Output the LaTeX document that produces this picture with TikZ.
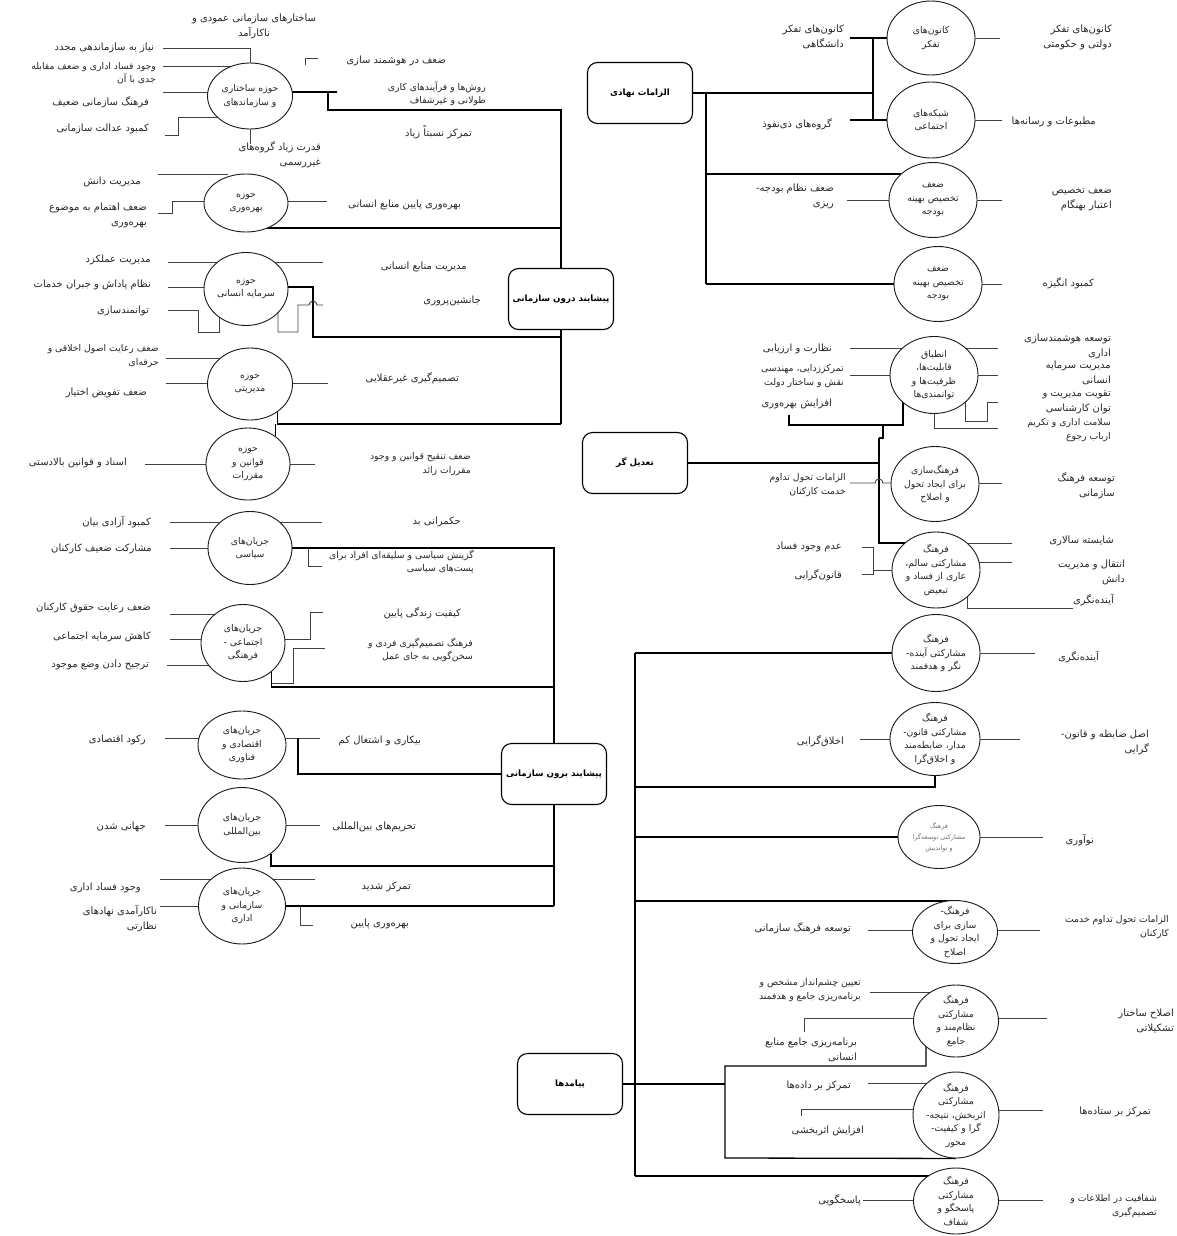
\documentclass[tikz,border=0pt]{standalone}
\usepackage{fontspec}
\newfontfamily\arabicfont[Script=Arabic]{DejaVu Sans}
\TeXXeTstate=1
\usetikzlibrary{shapes.geometric}
\pgfdeclarelayer{back}
\pgfsetlayers{back,main}
\newcommand\fa[1]{\beginR #1\endR}
\newcommand\lblfont{\arabicfont\fontsize{10}{15}\selectfont}
\newcommand\smlfont{\arabicfont\fontsize{9.3}{13.5}\selectfont}
\newcommand\circfont{\arabicfont\fontsize{9.3}{13.5}\selectfont}
\newcommand\tinyfont{\arabicfont\fontsize{6.5}{11}\selectfont}
\newcommand\boxfont{\arabicfont\bfseries\fontsize{8.7}{10}\selectfont}
\begin{document}
\begin{tikzpicture}[x=1pt,y=-1pt,
  lbl/.style={font=\lblfont, text=black!85, inner sep=1pt, align=right, anchor=east},
  sml/.style={lbl, font=\smlfont},
  circ/.style 2 args={ellipse, draw=black!90, line width=0.9pt, fill=white, minimum width=#1pt, minimum height=#2pt, inner sep=0pt},
  ctext/.style={font=\circfont, text=black!85, align=center, inner sep=0pt},
  mainbox/.style={draw, line width=1.1pt, rounded corners=10pt, fill=white, minimum width=105pt, minimum height=61pt, font=\boxfont},
  ln/.style={draw=black!75, line width=0.9pt},
  mn/.style={draw=black, line width=1.3pt}]
\useasboundingbox (0,0) rectangle (1177,1236);

% ---------------- main boxes
\node[mainbox] (b1) at (561,299) {\fa{پیشایند درون سازمانی}};
\node[mainbox] (b2) at (554,774) {\fa{پیشایند برون سازمانی}};
\node[mainbox] (b3) at (640,93) {\fa{الزامات نهادی}};
\node[mainbox] (b4) at (635,463) {\fa{تعدیل گر}};
\node[mainbox] (b5) at (570,1084) {\fa{پیامدها}};

% ---------------- circles
\node[circ={85}{66}] (c1) at (250,96) {};
\node[circ={84}{58}] (c2) at (246,203) {};
\node[circ={84}{73}] (c3) at (246,289) {};
\node[circ={85}{72}] (c4) at (250,384) {};
\node[circ={84}{72}] (c5) at (248,464) {};
\node[circ={84}{73}] (c6) at (250,548) {};
\node[circ={84}{77}] (c7) at (243,643) {};
\node[circ={88}{68}] (c8) at (242,745) {};
\node[circ={88}{75}] (c9) at (242,825) {};
\node[circ={87}{76}] (c10) at (242,906) {};
\node[circ={88}{74}] (c11) at (931,38) {};
\node[circ={88}{76}] (c12) at (931,120) {};
\node[circ={88}{75}] (c13) at (933,200) {};
\node[circ={88}{75}] (c14) at (938,284) {};
\node[circ={88}{77}] (c15) at (934,375) {};
\node[circ={88}{75}] (c16) at (935,484) {};
\node[circ={88}{76}] (c17) at (936,570) {};
\node[circ={88}{77}] (c18) at (936,653) {};
\node[circ={90}{73}] (c19) at (935,739) {};
\node[circ={82}{63}] (c20) at (939,837) {};
\node[circ={85}{63}] (c21) at (955,932) {};
\node[circ={85}{72}] (c22) at (956,1021) {};
\node[circ={86}{86}] (c23) at (956,1115) {};
\node[circ={85}{66}] (c24) at (956,1201) {};

% ---------------- circle texts
\node[ctext] (c1t) at (c1) {\fa{حوزه ساختاری}\\\fa{و سازماندهای}};
\node[ctext] (c2t) at (c2) {\fa{حوزه}\\\fa{بهره‌وری}};
\node[ctext] (c3t) at (c3) {\fa{حوزه}\\\fa{سرمایه انسانی}};
\node[ctext] (c4t) at (c4) {\fa{حوزه}\\\fa{مدیریتی}};
\node[ctext] (c5t) at (c5) {\fa{حوزه}\\\fa{قوانین و}\\\fa{مقررات}};
\node[ctext] (c6t) at (c6) {\fa{جریان‌های}\\\fa{سیاسی}};
\node[ctext] (c7t) at (c7) {\fa{جریان‌های}\\\fa{اجتماعی -}\\\fa{فرهنگی}};
\node[ctext] (c8t) at (c8) {\fa{جریان‌های}\\\fa{اقتصادی و}\\\fa{فناوری}};
\node[ctext] (c9t) at (c9) {\fa{جریان‌های}\\\fa{بین‌المللی}};
\node[ctext] (c10t) at (c10) {\fa{جریان‌های}\\\fa{سازمانی و}\\\fa{اداری}};
\node[ctext] (c11t) at (c11) {\fa{کانون‌های}\\\fa{تفکر}};
\node[ctext] (c12t) at (c12) {\fa{شبکه‌های}\\\fa{اجتماعی}};
\node[ctext] (c13t) at (c13) {\fa{ضعف}\\\fa{تخصیص بهینه}\\\fa{بودجه}};
\node[ctext] (c14t) at (c14) {\fa{ضعف}\\\fa{تخصیص بهینه}\\\fa{بودجه}};
\node[ctext] (c15t) at (c15) {\fa{انطباق}\\\fa{قابلیت‌ها،}\\\fa{ظرفیت‌ها و}\\\fa{توانمندی‌ها}};
\node[ctext] (c16t) at (c16) {\fa{فرهنگ‌سازی}\\\fa{برای ایجاد تحول}\\\fa{و اصلاح}};
\node[ctext] (c17t) at (c17) {\fa{فرهنگ}\\\fa{مشارکتی سالم،}\\\fa{عاری از فساد و}\\\fa{تبعیض}};
\node[ctext] (c18t) at (c18) {\fa{فرهنگ}\\\fa{مشارکتی آینده-}\\\fa{نگر و هدفمند}};
\node[ctext] (c19t) at (c19) {\fa{فرهنگ}\\\fa{مشارکتی قانون-}\\\fa{مدار، ضابطه‌مند}\\\fa{و اخلاق‌گرا}};
\node[ctext, font=\tinyfont, text=black!55] (c20t) at (c20) {\fa{فرهنگ}\\\fa{مشارکتی توسعه‌گرا}\\\fa{و نواندیش}};
\node[ctext] (c21t) at (c21) {\fa{فرهنگ-}\\\fa{سازی برای}\\\fa{ایجاد تحول و}\\\fa{اصلاح}};
\node[ctext] (c22t) at (c22) {\fa{فرهنگ}\\\fa{مشارکتی}\\\fa{نظام‌مند و}\\\fa{جامع}};
\node[ctext] (c23t) at (c23) {\fa{فرهنگ}\\\fa{مشارکتی}\\\fa{اثربخش، نتیجه-}\\\fa{گرا و کیفیت-}\\\fa{محور}};
\node[ctext] (c24t) at (c24) {\fa{فرهنگ}\\\fa{مشارکتی}\\\fa{پاسخگو و}\\\fa{شفاف}};

% ---------------- labels: top-left
\node[lbl, align=center, anchor=center] (t1) at (254,26) {\fa{ساختارهای سازمانی عمودی و}\\\fa{ناکارآمد}};
\node[lbl] (t2) at (155,48) {\fa{نیاز به سازماندهی مجدد}};
\node[sml] (t3) at (157,73) {\fa{وجود فساد اداری و ضعف مقابله}\\\fa{جدی با آن}};
\node[lbl] (t4) at (150,102) {\fa{فرهنگ سازمانی ضعیف}};
\node[lbl] (t5) at (150,129) {\fa{کمبود عدالت سازمانی}};
\node[lbl] (t6) at (322,155) {\fa{قدرت زیاد گروه‌های}\\\fa{غیررسمی}};
\node[lbl] (t7) at (447,61) {\fa{ضعف در هوشمند سازی}};
\node[sml] (t8) at (487,94) {\fa{روش‌ها و فرآیندهای کاری}\\\fa{طولانی و غیرشفاف}};
\node[lbl] (t9) at (473,132) {\fa{تمرکز نسبتاً زیاد}};
\node[lbl] (t10) at (142,182) {\fa{مدیریت دانش}};
\node[lbl] (t11) at (148,215) {\fa{ضعف اهتمام به موضوع}\\\fa{بهره‌وری}};
\node[lbl] (t12) at (462,205) {\fa{بهره‌وری پایین منابع انسانی}};
\node[lbl] (t13) at (152,260) {\fa{مدیریت عملکرد}};
\node[lbl] (t14) at (152,285) {\fa{نظام پاداش و جبران خدمات}};
\node[lbl] (t15) at (150,311) {\fa{توانمندسازی}};
\node[lbl] (t16) at (468,267) {\fa{مدیریت منابع انسانی}};
\node[lbl] (t17) at (482,301) {\fa{جانشین‌پروری}};
\node[sml] (t18) at (160,356) {\fa{ضعف رعایت اصول اخلاقی و}\\\fa{حرفه‌ای}};
\node[lbl] (t19) at (148,393) {\fa{ضعف تفویض اختیار}};
\node[lbl] (t20) at (460,378) {\fa{تصمیم‌گیری غیرعقلایی}};
\node[lbl] (t21) at (128,463) {\fa{اسناد و قوانین بالادستی}};
\node[sml] (t22) at (472,464) {\fa{ضعف تنقیح قوانین و وجود}\\\fa{مقررات زائد}};

% ---------------- labels: bottom-left
\node[lbl] (t23) at (152,522) {\fa{کمبود آزادی بیان}};
\node[lbl] (t24) at (153,549) {\fa{مشارکت ضعیف کارکنان}};
\node[lbl] (t25) at (462,522) {\fa{حکمرانی بد}};
\node[sml] (t26) at (475,562) {\fa{گزینش سیاسی و سلیقه‌ای افراد برای}\\\fa{پست‌های سیاسی}};
\node[lbl] (t27) at (152,608) {\fa{ضعف رعایت حقوق کارکنان}};
\node[lbl] (t28) at (152,637) {\fa{کاهش سرمایه اجتماعی}};
\node[lbl] (t29) at (150,665) {\fa{ترجیح دادن وضع موجود}};
\node[lbl] (t30) at (462,613) {\fa{کیفیت زندگی پایین}};
\node[sml] (t31) at (474,650) {\fa{فرهنگ تصمیم‌گیری فردی و}\\\fa{سخن‌گویی به جای عمل}};
\node[lbl] (t32) at (147,740) {\fa{رکود اقتصادی}};
\node[lbl] (t33) at (422,741) {\fa{بیکاری و اشتغال کم}};
\node[lbl] (t34) at (147,827) {\fa{جهانی شدن}};
\node[lbl] (t35) at (417,827) {\fa{تحریم‌های بین‌المللی}};
\node[lbl] (t36) at (142,888) {\fa{وجود فساد اداری}};
\node[lbl] (t37) at (158,919) {\fa{ناکارآمدی نهادهای}\\\fa{نظارتی}};
\node[lbl] (t38) at (412,887) {\fa{تمرکز شدید}};
\node[lbl] (t39) at (410,924) {\fa{بهره‌وری پایین}};

% ---------------- labels: top-right
\node[lbl] (t40) at (845,37) {\fa{کانون‌های تفکر}\\\fa{دانشگاهی}};
\node[lbl] (t41) at (1113,37) {\fa{کانون‌های تفکر}\\\fa{دولتی و حکومتی}};
\node[lbl] (t42) at (833,124) {\fa{گروه‌های ذی‌نفوذ}};
\node[lbl] (t43) at (1097,122) {\fa{مطبوعات و رسانه‌ها}};
\node[lbl] (t44) at (835,196) {\fa{ضعف نظام بودجه‌-}\\\fa{ریزی}};
\node[lbl] (t45) at (1113,200) {\fa{ضعف تخصیص}\\\fa{اعتبار بهنگام}};
\node[lbl] (t46) at (1095,283) {\fa{کمبود انگیزه}};

% ---------------- labels: middle-right
\node[lbl] (t47) at (833,349) {\fa{نظارت و ارزیابی}};
\node[sml] (t48) at (845,376) {\fa{تمرکززدایی، مهندسی}\\\fa{نقش و ساختار دولت}};
\node[lbl] (t49) at (833,404) {\fa{افزایش بهره‌وری}};
\node[lbl] (t50) at (1112,346) {\fa{توسعه هوشمندسازی}\\\fa{اداری}};
\node[lbl] (t51) at (1112,373) {\fa{مدیریت سرمایه}\\\fa{انسانی}};
\node[lbl] (t52) at (1112,402) {\fa{تقویت مدیریت و}\\\fa{توان کارشناسی}};
\node[sml] (t53) at (1112,430) {\fa{سلامت اداری و تکریم}\\\fa{ارباب رجوع}};
\node[sml] (t54) at (847,485) {\fa{الزامات تحول تداوم}\\\fa{خدمت کارکنان}};
\node[lbl] (t55) at (1116,486) {\fa{توسعه فرهنگ}\\\fa{سازمانی}};
\node[lbl] (t56) at (843,547) {\fa{عدم وجود فساد}};
\node[lbl] (t57) at (843,575) {\fa{قانون‌گرایی}};
\node[lbl] (t58) at (1115,541) {\fa{شایسته سالاری}};
\node[lbl] (t59) at (1126,572) {\fa{انتقال و مدیریت}\\\fa{دانش}};
\node[lbl] (t60) at (1115,600) {\fa{آینده‌نگری}};

% ---------------- labels: bottom-right
\node[lbl] (t61) at (1100,657) {\fa{آینده‌نگری}};
\node[lbl] (t62) at (845,741) {\fa{اخلاق‌گرایی}};
\node[lbl] (t63) at (1150,742) {\fa{اصل ضابطه و قانون-}\\\fa{گرایی}};
\node[lbl] (t64) at (1095,840) {\fa{نوآوری}};
\node[lbl] (t65) at (852,928) {\fa{توسعه فرهنگ سازمانی}};
\node[sml] (t66) at (1170,927) {\fa{الزامات تحول تداوم خدمت}\\\fa{کارکنان}};
\node[sml] (t67) at (862,990) {\fa{تعیین چشم‌انداز مشخص و}\\\fa{برنامه‌ریزی جامع و هدفمند}};
\node[lbl] (t68) at (858,1050) {\fa{برنامه‌ریزی جامع منابع}\\\fa{انسانی}};
\node[lbl] (t69) at (1175,1021) {\fa{اصلاح ساختار}\\\fa{تشکیلاتی}};
\node[lbl] (t70) at (852,1086) {\fa{تمرکز بر داده‌ها}};
\node[lbl] (t71) at (865,1131) {\fa{افزایش اثربخشی}};
\node[lbl] (t72) at (1152,1112) {\fa{تمرکز بر ستاده‌ها}};
\node[lbl] (t73) at (862,1200) {\fa{پاسخگویی}};
\node[sml] (t74) at (1158,1206) {\fa{شفافیت در اطلاعات و}\\\fa{تصمیم‌گیری}};

% ================= connectors (behind the circles)
\begin{pgfonlayer}{back}
% top-left
\draw[ln] (163,48) -| (c1.north);
\draw[ln] (163,66) -- (c1|-0,66);
\draw[ln] (163,92) -- (c1|-0,92);
\draw[ln] (165,135) -- (178,135) -- (178,117) -- (c1|-0,117);
\draw[ln] (c1.south) -- ++(0,15);
\draw[ln] (305,65) -- (305,58) -- (318,58);
\draw[mn] (c1|-0,92) -- (337,92);
\draw[mn] (328,92) -- (328,110) -| (b1.north);
\draw[ln] (158,174) -- (228,174);
\draw[ln] (158,213) -- (172,213) -- (172,201) -- (c2|-0,201);
\draw[ln] (c2|-0,201) -- (327,201);
\draw[mn] (c2|-0,228) -- (b1.north|-0,228);
\draw[ln] (168,262) -- (c3|-0,262);
\draw[ln] (168,287) -- (c3|-0,287);
\draw[ln] (168,310) -- (198,310) -- (198,332) -- (219,332) -- (219,310);
\draw[ln] (c3|-0,262) -- (323,262);
\draw[mn] (c3|-0,287) -- (313,287) -- (313,337) -- (b1.south|-0,337);
\draw[ln] (278,300) -- (278,332) -- (298,332) -- (298,305) -- (309,305) arc[start angle=180,end angle=0,radius=4pt] -- (323,305);
\draw[mn] (b1.south) -- (b1.south|-0,424);
\draw[ln] (166,358) -- (c4|-0,358);
\draw[ln] (166,383) -- (c4|-0,383);
\draw[ln] (c4|-0,383) -- (328,383);
\draw[mn] (c4.-45) -- (c4.-45|-0,424) -- (b1.south|-0,424);
\draw[mn] (c5.45) -- (c5.45|-0,424);
\draw[ln] (145,464) -- (c5|-0,464);
\draw[ln] (c5|-0,464) -- (315,464);
% bottom-left
\draw[ln] (170,522) -- (c6|-0,522);
\draw[ln] (170,548) -- (c6|-0,548);
\draw[ln] (c6|-0,522) -- (322,522);
\draw[mn] (c6|-0,548) -| (b2.north);
\draw[ln] (308,548) -- (308,566) -- (322,566);
\draw[ln] (170,614) -- (c7|-0,614);
\draw[ln] (170,639) -- (c7|-0,639);
\draw[ln] (167,665) -- (c7|-0,665);
\draw[ln] (c7|-0,639) -- (310,639) -- (310,612) -- (323,612);
\draw[mn] (c7.-45) |- (b2.north|-0,687);
\draw[ln] (c7.-45|-0,683) -- (293,683) -- (293,648) -- (325,648);
\draw[ln] (165,738) -- (c8|-0,738);
\draw[ln] (c8|-0,738) -- (320,738);
\draw[mn] (298,738) |- (b2.west);
\draw[ln] (165,825) -- (c9|-0,825);
\draw[ln] (c9|-0,825) -- (320,825);
\draw[mn] (c9.-45) |- (b2.south|-0,866);
\draw[mn] (b2.south) -- (b2.south|-0,906);
\draw[ln] (160,879) -- (c10|-0,879);
\draw[ln] (160,906) -- (c10|-0,906);
\draw[ln] (c10|-0,879) -- (315,879);
\draw[mn] (c10|-0,906) -- (b2.south|-0,906);
\draw[ln] (300,906) |- (313,925);
% top-right
\draw[mn] (b3.east) -- (873,93);
\draw[mn] (706,93) -- (706,284);
\draw[mn] (873,38) -- (873,120);
\draw[mn] (850,38) -- (c11|-0,38);
\draw[mn] (850,120) -- (c12|-0,120);
\draw[ln] (c11|-0,38) -- (1000,38);
\draw[ln] (c12|-0,120) -- (1002,120);
\draw[mn] (706,174) -- (c13|-0,174);
\draw[ln] (847,200) -- (c13|-0,200);
\draw[ln] (c13|-0,200) -- (1002,200);
\draw[mn] (706,284) -- (c14|-0,284);
\draw[ln] (c14|-0,284) -- (1002,284);
% middle-right
\draw[mn] (b4.east) -- (879,463);
\draw[mn] (879,438) -- (879,543) -- (c17|-0,543);
\draw[mn] (879,438) -- (883,438) -- (883,425);
\draw[mn] (789,415) -- (789,425) -- (903,425) -- (903,400);
\draw[ln] (850,348) -- (c15|-0,348);
\draw[ln] (850,375) -- (c15|-0,375);
\draw[ln] (c15|-0,348) -- (998,348);
\draw[ln] (c15|-0,375) -- (998,375);
\draw[ln] (965,395) -- (965,421) -- (987,421) -- (987,402) -- (998,402);
\draw[ln] (c15.south) -- (934,428) -- (998,428);
\draw[ln] (850,483) -- (875,483) arc[start angle=180,end angle=0,radius=4pt] -- (c16|-0,483);
\draw[ln] (c16|-0,483) -- (1002,483);
\draw[ln] (862,547) -- (873,547) -- (873,574) -- (862,574);
\draw[ln] (873,570) -- (c17|-0,570);
\draw[ln] (c17|-0,543) -- (1012,543);
\draw[ln] (c17|-0,562) -- (1012,562);
\draw[ln] (967,590) -- (967,608) -- (1073,608);
% bottom-right
\draw[mn] (635,653) -- (635,1176);
\draw[mn] (b5.east) -- (725,1084);
\draw[mn] (635,653) -- (c18|-0,653);
\draw[ln] (c18|-0,653) -- (1035,653);
\draw[mn] (c19.south) |- (635,787);
\draw[ln] (860,739) -- (c19|-0,739);
\draw[ln] (c19|-0,739) -- (1020,739);
\draw[mn] (635,837) -- (c20|-0,837);
\draw[ln] (c20|-0,837) -- (1043,837);
\draw[mn] (635,901) -- (c21|-0,901);
\draw[ln] (868,930) -- (c21|-0,930);
\draw[ln] (c21|-0,930) -- (1040,930);
\draw[ln] (870,992) -- (c22|-0,992);
\draw[ln] (804,1032) -- (804,1018) -- (c22|-0,1018);
\draw[ln] (c22|-0,1018) -- (1047,1018);
\draw[mn] (926,1040) -- (926,1066) -- (725,1066) -- (725,1158) -- (c23.south);
\draw[ln] (868,1083) -- (c23|-0,1083);
\draw[ln] (801,1116) -- (801,1109) -- (c23|-0,1109);
\draw[ln] (c23|-0,1110) -- (1043,1110);
\draw[mn] (635,1176) -- (c24|-0,1176);
\draw[ln] (863,1200) -- (c24|-0,1200);
\draw[ln] (c24|-0,1200) -- (1043,1200);
\end{pgfonlayer}
\end{tikzpicture}
\end{document}
